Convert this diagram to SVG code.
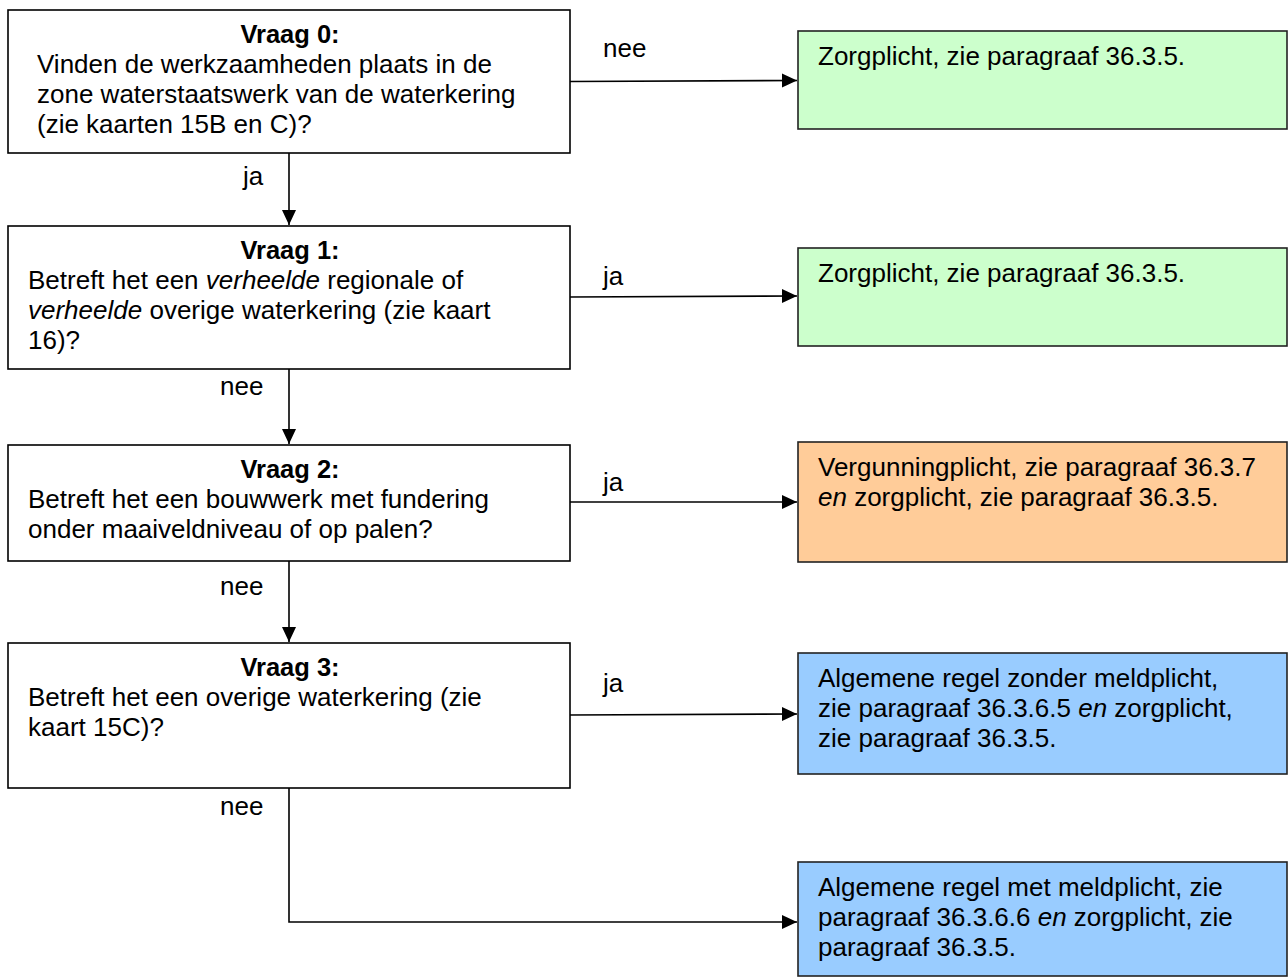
<svg xmlns="http://www.w3.org/2000/svg" width="1288" height="978" viewBox="0 0 1288 978">
<style>
text{font-family:"Liberation Sans",Arial,sans-serif;font-size:26px;fill:#000}
.t{font-weight:bold;text-anchor:middle;font-size:25.5px}
.q{fill:#fff;stroke:#000;stroke-width:1.6}
.r{stroke:#222;stroke-width:1.6}
.g{fill:#CCFFCC}.o{fill:#FFCC99}.b{fill:#99CCFF}
.c{fill:none;stroke:#000;stroke-width:1.6}
.i{font-style:italic}
</style>
<defs>
<marker id="ah" markerUnits="userSpaceOnUse" markerWidth="16" markerHeight="16" viewBox="0 0 16 16" refX="15" refY="8" orient="auto">
<path d="M0,1 L15,8 L0,15 Z" fill="#000"/>
</marker>
</defs>
<rect width="1288" height="978" fill="#fff"/>
<g id="connectors">
<path class="c" d="M570,81.5 L797,80.5" marker-end="url(#ah)"/>
<path class="c" d="M289,153 L289,225" marker-end="url(#ah)"/>
<path class="c" d="M570,297 L797,296" marker-end="url(#ah)"/>
<path class="c" d="M289,369 L289,444" marker-end="url(#ah)"/>
<path class="c" d="M570,502 L797,502" marker-end="url(#ah)"/>
<path class="c" d="M289,561 L289,642" marker-end="url(#ah)"/>
<path class="c" d="M570,715 L797,714" marker-end="url(#ah)"/>
<path class="c" d="M289,788 L289,922 L797,922" marker-end="url(#ah)"/>
<text x="603" y="57">nee</text>
<text x="243" y="185">ja</text>
<text x="603" y="285">ja</text>
<text x="220" y="395">nee</text>
<text x="603" y="491">ja</text>
<text x="220" y="595">nee</text>
<text x="603" y="692">ja</text>
<text x="220" y="815">nee</text>
</g>
<g id="vraag0">
<rect class="q" x="8" y="10" width="562" height="143"/>
<text class="t" x="290" y="43">Vraag 0:</text>
<text x="37" y="73">Vinden de werkzaamheden plaats in de</text>
<text x="37" y="103">zone waterstaatswerk van de waterkering</text>
<text x="37" y="133">(zie kaarten 15B en C)?</text>
</g>
<g id="vraag1">
<rect class="q" x="8" y="226" width="562" height="143"/>
<text class="t" x="290" y="259">Vraag 1:</text>
<text x="28" y="289">Betreft het een <tspan class="i">verheelde</tspan> regionale of</text>
<text x="28" y="319"><tspan class="i">verheelde</tspan> overige waterkering (zie kaart</text>
<text x="28" y="349">16)?</text>
</g>
<g id="vraag2">
<rect class="q" x="8" y="445" width="562" height="116"/>
<text class="t" x="290" y="478">Vraag 2:</text>
<text x="28" y="508">Betreft het een bouwwerk met fundering</text>
<text x="28" y="538">onder maaiveldniveau of op palen?</text>
</g>
<g id="vraag3">
<rect class="q" x="8" y="643" width="562" height="145"/>
<text class="t" x="290" y="676">Vraag 3:</text>
<text x="28" y="706">Betreft het een overige waterkering (zie</text>
<text x="28" y="736">kaart 15C)?</text>
</g>
<g id="zorg0">
<rect class="r g" x="798" y="31" width="489" height="98"/>
<text x="818" y="65">Zorgplicht, zie paragraaf 36.3.5.</text>
</g>
<g id="zorg1">
<rect class="r g" x="798" y="248" width="489" height="98"/>
<text x="818" y="282">Zorgplicht, zie paragraaf 36.3.5.</text>
</g>
<g id="vergunning">
<rect class="r o" x="798" y="442" width="489" height="120"/>
<text x="818" y="476">Vergunningplicht, zie paragraaf 36.3.7</text>
<text x="818" y="506"><tspan class="i">en</tspan> zorgplicht, zie paragraaf 36.3.5.</text>
</g>
<g id="zonder">
<rect class="r b" x="798" y="653" width="489" height="121"/>
<text x="818" y="687">Algemene regel zonder meldplicht,</text>
<text x="818" y="717">zie paragraaf 36.3.6.5 <tspan class="i">en</tspan> zorgplicht,</text>
<text x="818" y="747">zie paragraaf 36.3.5.</text>
</g>
<g id="met">
<rect class="r b" x="798" y="862" width="489" height="114"/>
<text x="818" y="896">Algemene regel met meldplicht, zie</text>
<text x="818" y="926">paragraaf 36.3.6.6 <tspan class="i">en</tspan> zorgplicht, zie</text>
<text x="818" y="956">paragraaf 36.3.5.</text>
</g>
</svg>
